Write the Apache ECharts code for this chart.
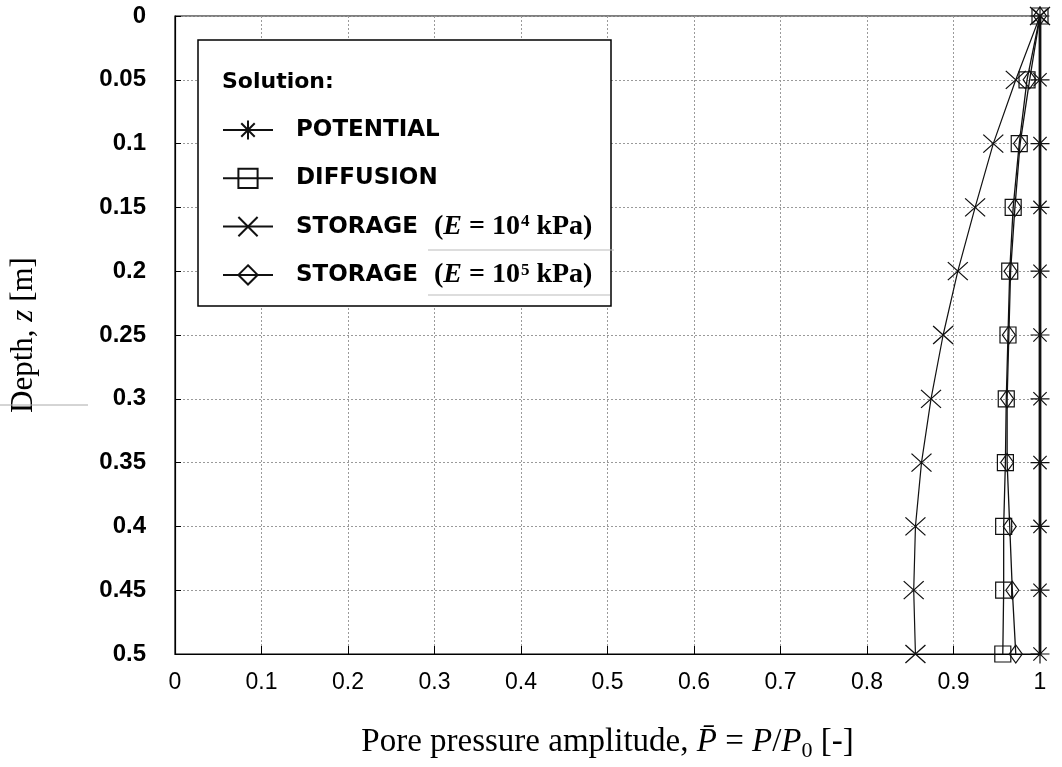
<!DOCTYPE html>
<html>
<head>
<meta charset="utf-8">
<script src="https://cdn.jsdelivr.net/npm/echarts@6/dist/echarts.min.js"></script>
<style>html,body{margin:0;padding:0;background:#fff;}#c{width:1062px;height:767px;}</style>
</head>
<body>
<div id="c"></div>
<script>
// ---- data ----
const depths = [0, 0.05, 0.1, 0.15, 0.2, 0.25, 0.3, 0.35, 0.4, 0.45, 0.5];
const potential = [1, 1, 1, 1, 1, 1, 1, 1, 1, 1, 1];
const diffusion = [1.0, 0.985, 0.976, 0.969, 0.965, 0.963, 0.961, 0.960, 0.958, 0.958, 0.957];
const storage4 = [1.0, 0.972, 0.946, 0.925, 0.905, 0.888, 0.874, 0.863, 0.856, 0.854, 0.856];
const storage5 = [1.0, 0.988, 0.977, 0.971, 0.966, 0.964, 0.962, 0.962, 0.965, 0.968, 0.972];
const seriesNames = ['POTENTIAL', 'DIFFUSION', 'STORAGE (E = 10^4 kPa)', 'STORAGE (E = 10^5 kPa)'];

const pairs = vals => vals.map((v, i) => [v, depths[i]]);

const SERIF = "'Liberation Serif','DejaVu Serif',serif";
const SANS = "'DejaVu Sans','Liberation Sans',sans-serif";
const ARIAL = "'Liberation Sans',Arial,sans-serif";

const chart = echarts.init(document.getElementById('c'), null, {renderer: 'canvas'});

const LH = 30;
const legendRich = {
  t: {fontFamily: SANS, fontWeight: 'bold', fontSize: 23, color: '#000', lineHeight: LH},
  p: {fontFamily: SERIF, fontSize: 28, color: '#000', lineHeight: LH},
  i: {fontFamily: SERIF, fontSize: 28, fontStyle: 'italic', color: '#000', lineHeight: LH},
  b: {fontFamily: SERIF, fontSize: 28, fontWeight: 'bold', color: '#000', lineHeight: LH},
  s: {fontFamily: SERIF, fontSize: 17, color: '#000', verticalAlign: 'top', lineHeight: 26, padding: [2, 0, 0, 1]}
};

function lineSeries(name, vals, symbol, size, lw) {
  return {
    name: name,
    type: 'line',
    data: pairs(vals),
    symbol: symbol,
    symbolSize: size,
    showAllSymbol: true,
    clip: false,
    z: 3,
    lineStyle: {color: '#111', width: lw},
    itemStyle: {color: 'rgba(0,0,0,0)', borderColor: '#111', borderWidth: 1.2},
    emphasis: {disabled: true}
  };
}

const option = {
  animation: false,
  backgroundColor: '#fff',
  grid: {left: 174, right: 22, top: 16, bottom: 112, show: true, borderColor: '#000', borderWidth: 1.2, containLabel: false},
  xAxis: {
    type: 'value', min: 0, max: 1, interval: 0.1, position: 'bottom',
    axisLine: {show: true, onZero: false, lineStyle: {color: '#000', width: 1.2}},
    axisTick: {show: true, inside: true, length: 8, lineStyle: {color: '#000'}},
    axisLabel: {fontFamily: ARIAL, fontSize: 23, color: '#000', margin: 17,
      formatter: v => String(+v.toFixed(2))},
    splitLine: {show: true, lineStyle: {color: '#9a9a9a', type: [2, 2], width: 1}},
    name: 'Pore pressure amplitude, {i|P\u0304} = {i|P}/{i|P}{sub|0} [-]',
    nameLocation: 'middle', nameGap: 69,
    nameTextStyle: {
      fontFamily: SERIF, fontSize: 33, color: '#000',
      rich: {
        i: {fontFamily: SERIF, fontSize: 33, fontStyle: 'italic', color: '#000'},
        sub: {fontFamily: SERIF, fontSize: 22, color: '#000', verticalAlign: 'bottom', lineHeight: 39}
      }
    }
  },
  yAxis: {
    type: 'value', inverse: true, min: 0, max: 0.5, interval: 0.05,
    axisLine: {show: true, onZero: false, lineStyle: {color: '#000', width: 1.2}},
    axisTick: {show: true, inside: true, length: 6, lineStyle: {color: '#000'}},
    axisLabel: {fontFamily: ARIAL, fontWeight: 'bold', fontSize: 24, color: '#000', margin: 29,
      formatter: v => String(+v.toFixed(2))},
    splitLine: {show: true, lineStyle: {color: '#9a9a9a', type: [2, 2], width: 1}},
    name: 'Depth, {i|z} [m]',
    nameLocation: 'middle', nameGap: 136, nameRotate: 90,
    nameTextStyle: {
      fontFamily: SERIF, fontSize: 31, color: '#000',
      rich: {i: {fontFamily: SERIF, fontSize: 31, fontStyle: 'italic', color: '#000'}}
    }
  },
  legend: {
    data: seriesNames,
    left: 222, top: 115, orient: 'vertical', padding: 0,
    itemWidth: 50, itemHeight: 24, itemGap: 18.3,
    z: 10,
    selectedMode: false,
    textStyle: {fontFamily: SANS, fontWeight: 'bold', fontSize: 23, color: '#000', padding: [0, 0, 0, 18], lineHeight: LH, rich: legendRich},
    formatter: function (name) {
      if (name === seriesNames[2]) return '{t|STORAGE  }{p|(}{i|E}{p| = 10}{s|4}{b| kPa}{p|)}';
      if (name === seriesNames[3]) return '{t|STORAGE  }{p|(}{i|E}{p| = 10}{s|5}{b| kPa}{p|)}';
      return '{t|' + name + '}';
    }
  },
  graphic: [
    {type: 'rect', z: 8, shape: {x: 198, y: 40, width: 413, height: 266}, style: {fill: '#fff', stroke: '#000', lineWidth: 1.5}},
    {type: 'text', z: 9, left: 222, top: 71, style: {text: 'Solution:', font: "bold 22px 'DejaVu Sans'", fill: '#000'}},
    {type: 'line', z: 9, shape: {x1: 428, y1: 250, x2: 614, y2: 250}, style: {stroke: '#bbb', lineWidth: 1}},
    {type: 'line', z: 9, shape: {x1: 428, y1: 295, x2: 610, y2: 295}, style: {stroke: '#bbb', lineWidth: 1}},
    {type: 'line', z: 1, shape: {x1: 0, y1: 405, x2: 88, y2: 405}, style: {stroke: '#aaa', lineWidth: 1}}
  ],
  series: [
    lineSeries(seriesNames[0], potential, 'path://M10,0L10,20M0,10L20,10M3,3L17,17M17,3L3,17', 19, 2.8),
    lineSeries(seriesNames[1], diffusion, 'rect', 16, 1.3),
    lineSeries(seriesNames[2], storage4, 'path://M0,0L20,18M20,0L0,18', [20, 18], 1.2),
    lineSeries(seriesNames[3], storage5, 'diamond', [13, 18], 1.3)
  ]
};
chart.setOption(option);
</script>
</body>
</html>
